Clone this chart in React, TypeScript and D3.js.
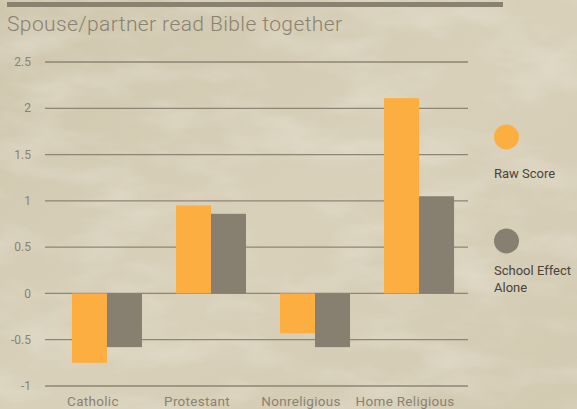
import React from "react";
import * as d3 from "d3";

const categories = ["Catholic", "Protestant", "Nonreligious", "Home Religious"];
const rawScore = [-0.75, 0.95, -0.43, 2.11];
const schoolEffect = [-0.58, 0.86, -0.58, 1.05];
const yTicks = [-1, -0.5, 0, 0.5, 1, 1.5, 2, 2.5];
const seriesNames = ["Raw Score", "School Effect Alone"];
const title = "Spouse/partner read Bible together";

const W = 577;
const H = 409;
const ORANGE = "#fcaf40";
const GRAY = "#877f6f";
const TEXT = "#8a8272";

export default function App() {
  const y = d3.scaleLinear().domain([-1, 2.5]).range([386, 62]);
  const x = d3.scaleBand().domain(categories).range([55, 471]).paddingInner(0.327).paddingOuter(0.163);
  const sub = d3.scaleBand().domain(["raw", "school"]).range([0, x.bandwidth()]);
  const font = "Roboto, 'DejaVu Sans', sans-serif";

  return (
    <svg width={W} height={H} style={{ position: "fixed", left: 0, top: 0 }}>
      <defs>
        <linearGradient id="bg" x1="0" y1="0" x2="1" y2="1">
          <stop offset="0" stopColor="#cfc6ad" />
          <stop offset="0.5" stopColor="#d8d0b9" />
          <stop offset="1" stopColor="#d3cab2" />
        </linearGradient>
        <filter id="noise" x="0" y="0" width="100%" height="100%">
          <feTurbulence type="fractalNoise" baseFrequency="0.012 0.03" numOctaves="4" seed="3" />
          <feColorMatrix type="matrix" values="0 0 0 0 0.95  0 0 0 0 0.93  0 0 0 0 0.88  0 0 0 1.3 -0.55" />
        </filter>
      </defs>
      <rect width={W} height={H} fill="url(#bg)" />
      <rect width={W} height={H} filter="url(#noise)" opacity={0.45} />
      <rect x={7} y={2} width={496} height={5} fill="#8a8171" />
      <text x={7} y={31} fontFamily={font} fontWeight={300} fontSize={21} letterSpacing={0.4} fill={TEXT}>{title}</text>

      {yTicks.map((t) => (
        <g key={t}>
          <line x1={45} x2={468} y1={y(t)} y2={y(t)} stroke="#8f8573" strokeWidth={1.3} />
          <text x={31} y={y(t)} dy="0.35em" textAnchor="end" fontFamily={font} fontSize={12} fill={TEXT}>{String(t)}</text>
        </g>
      ))}

      {categories.map((c, i) => {
        const bx = x(c) as number;
        return (
          <g key={c}>
            <rect x={bx + (sub("raw") as number)} width={sub.bandwidth()}
              y={Math.min(y(0), y(rawScore[i]))} height={Math.abs(y(rawScore[i]) - y(0))} fill={ORANGE} />
            <rect x={bx + (sub("school") as number)} width={sub.bandwidth()}
              y={Math.min(y(0), y(schoolEffect[i]))} height={Math.abs(y(schoolEffect[i]) - y(0))} fill={GRAY} />
            <text x={bx + x.bandwidth() / 2 - 14} y={406} textAnchor="middle" fontFamily={font} fontSize={13.5} letterSpacing={0.3} fill={TEXT}>{c}</text>
          </g>
        );
      })}

      <circle cx={506.5} cy={137} r={12.5} fill={ORANGE} />
      <text x={494} y={178} fontFamily={font} fontSize={13} fill="#4a443a">{seriesNames[0]}</text>
      <circle cx={506.5} cy={241} r={12.5} fill={GRAY} />
      <text x={494} y={275} fontFamily={font} fontSize={13} fill="#4a443a">
        <tspan x={494}>School Effect</tspan>
        <tspan x={494} dy={16.5}>Alone</tspan>
      </text>
    </svg>
  );
}
